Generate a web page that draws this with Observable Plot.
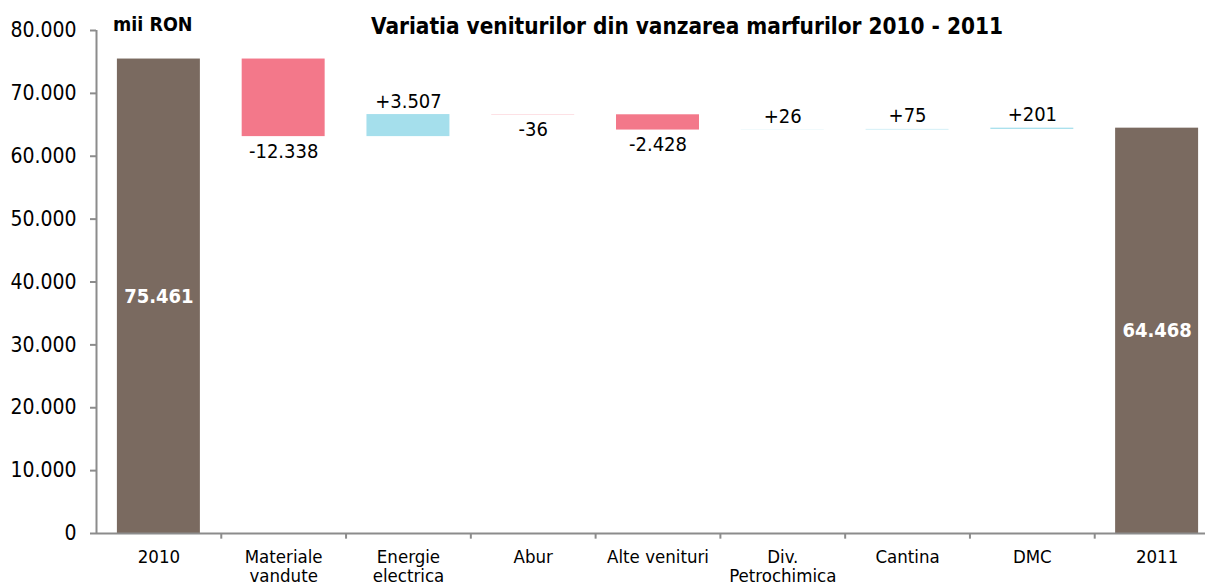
<!DOCTYPE html>
<html><head><meta charset="utf-8">
<script src="https://cdn.jsdelivr.net/npm/d3@7"></script>
<script src="https://cdn.jsdelivr.net/npm/@observablehq/plot@0.6"></script>
<style>
body{margin:0;background:#fff;font-family:"DejaVu Sans Condensed","DejaVu Sans",sans-serif;color:#000;}
#wrap{position:relative;width:1205px;height:587px;overflow:hidden;}
#unit{position:absolute;left:113px;top:13px;font-weight:bold;font-size:19.5px;white-space:nowrap;line-height:1.2;}
#title{position:absolute;left:687px;top:13px;transform:translateX(-50%);font-weight:bold;font-size:22.4px;white-space:nowrap;line-height:1.2;}
</style></head>
<body><div id="wrap"><div id="chart"></div><div id="unit">mii RON</div><div id="title">Variatia veniturilor din vanzarea marfurilor 2010 - 2011</div></div>
<script>
const categories = ["2010","Materiale\nvandute","Energie\nelectrica","Abur","Alte venituri","Div.\nPetrochimica","Cantina","DMC","2011"];
const values = [75461, -12338, 3507, -36, -2428, 26, 75, 201, 64468];
const kinds = ["total","delta","delta","delta","delta","delta","delta","delta","total"];
const yTicks = [0,10000,20000,30000,40000,50000,60000,70000,80000];

const colors = {total:"#7a6a60", up:"#a5dfec", down:"#f3788a"};
const fmt = v => d3.format(",")(Math.abs(v)).replace(/,/g,".");

let run = 0;
const rows = categories.map((c,i)=>{
  const v = values[i];
  let y1,y2,label,color;
  if (kinds[i]==="total"){ y1=0; y2=v; run=v; label=fmt(v); color=colors.total; }
  else { y1=run; y2=run+v; run=y2; label=(v>=0?"+":"-")+fmt(v); color=v>=0?colors.up:colors.down; }
  return {cat:c, y1, y2, v, kind:kinds[i], label, color};
});
const totals = rows.filter(d=>d.kind==="total");
const ups = rows.filter(d=>d.kind==="delta" && d.v>=0);
const downs = rows.filter(d=>d.kind==="delta" && d.v<0);

const left = 96, right = 1219, W = 1205, H = 587;
const step = (right-left)/categories.length;
const axisColor = "#8c8c8c";

const chart = Plot.plot({
  width: W, height: H,
  marginLeft: left, marginRight: 0, marginTop: 30, marginBottom: 54,
  style: {fontFamily: '"DejaVu Sans Condensed","DejaVu Sans",sans-serif', color: "#000", background: "#fff", overflow: "visible"},
  x: {type: "band", domain: categories, range: [left, right], paddingInner: 0.335, paddingOuter: 0.1675, round: false, axis: null},
  y: {domain: [0, 80000], axis: null},
  marks: [
    Plot.barY(rows, {x: "cat", y1: "y1", y2: "y2", fill: "color"}),
    Plot.axisY({ticks: yTicks, tickSize: 6, tickPadding: 14, tickFormat: fmt, fontSize: 21, stroke: axisColor, strokeWidth: 2}),
    Plot.ruleX([categories[0]], {x: d=>d, dx: -step/2, y1: 0, y2: 80000, stroke: axisColor, strokeWidth: 2}),
    Plot.ruleY([0], {stroke: axisColor, strokeWidth: 2}),
    Plot.ruleX(categories.slice(1), {x: d=>d, dx: -step/2, y1: 0, y2: -900, stroke: axisColor, strokeWidth: 2}),
    Plot.text(categories, {x: d=>d, y: 0, dy: 15, lineAnchor: "top", fontSize: 18.5, lineHeight: 1.07, fill: "#000"}),
    Plot.text(totals, {x: "cat", y: d=>d.y2/2, text: "label", fill: "#fff", fontWeight: "bold", fontSize: 20}),
    Plot.text(ups, {x: "cat", y: "y2", text: "label", lineAnchor: "bottom", dy: -7, fontSize: 20, fill: "#000"}),
    Plot.text(downs, {x: "cat", y: "y2", text: "label", lineAnchor: "top", dy: 7, fontSize: 20, fill: "#000"})
  ]
});
document.getElementById("chart").appendChild(chart);
</script>
</body></html>
